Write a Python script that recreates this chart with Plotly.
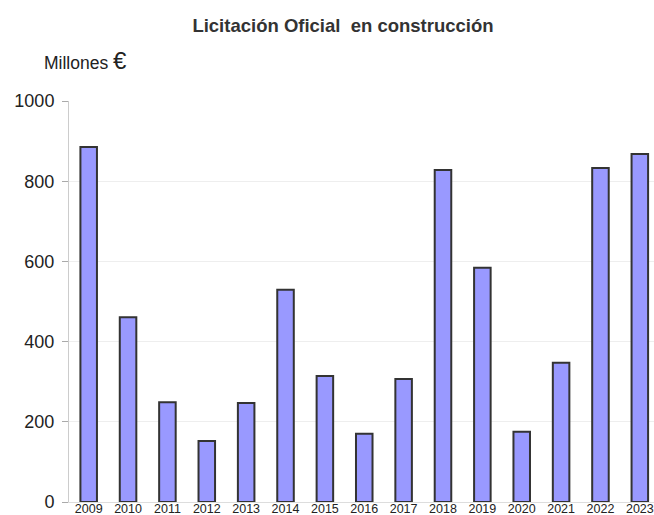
import plotly.graph_objects as go

years = ["2009","2010","2011","2012","2013","2014","2015","2016","2017","2018","2019","2020","2021","2022","2023"]
values = [885, 461, 249, 152, 247, 529, 314, 170, 307, 828, 584, 175, 347, 833, 868]
y_ticks = [0, 200, 400, 600, 800, 1000]

fig = go.Figure(go.Bar(
    x=years, y=values,
    marker=dict(color="#9999FF", line=dict(color="#333333", width=2)),
    width=0.42,
))

fig.update_layout(
    width=654, height=515,
    paper_bgcolor="white", plot_bgcolor="white",
    margin=dict(l=69, r=0, t=101, b=13),
    font=dict(family="Liberation Sans, Arial", color="#222222"),
    title=dict(text="<b>Licitación Oficial  en construcción</b>", x=343/654, xref="container", xanchor="center",
               y=1-26/515, yref="container", yanchor="middle", font=dict(size=18.5, color="#333333")),
    showlegend=False,
    bargap=0.5,
)
fig.update_xaxes(
    type="category", range=[-0.5, 14.36],
    tickfont=dict(size=12.5, color="#222222"),
    showline=True, linecolor="#dddddd", linewidth=1,
    ticks="", showgrid=False, automargin=False,
    ticklabelstandoff=-5,
)
fig.update_yaxes(
    range=[0, 1000], tickvals=y_ticks,
    tickfont=dict(size=18, color="#222222"),
    showline=True, linecolor="#cccccc", linewidth=1,
    ticks="outside", ticklen=6, tickcolor="#aaaaaa",
    ticklabelstandoff=4,
    showgrid=True, gridcolor="#eeeeee", gridwidth=1,
    zeroline=False, automargin=False,
)
fig.add_annotation(
    text="Millones <span style='font-size:24px'>€</span>",
    xref="paper", yref="paper", x=(42-69)/585, y=1+(101-60)/401,
    xanchor="left", yanchor="middle", showarrow=False,
    font=dict(size=17.5, color="#222222"),
)
fig.write_html("out.html", config={"displayModeBar": False},
               post_script="document.body.style.margin='0';document.body.style.overflow='hidden';")
